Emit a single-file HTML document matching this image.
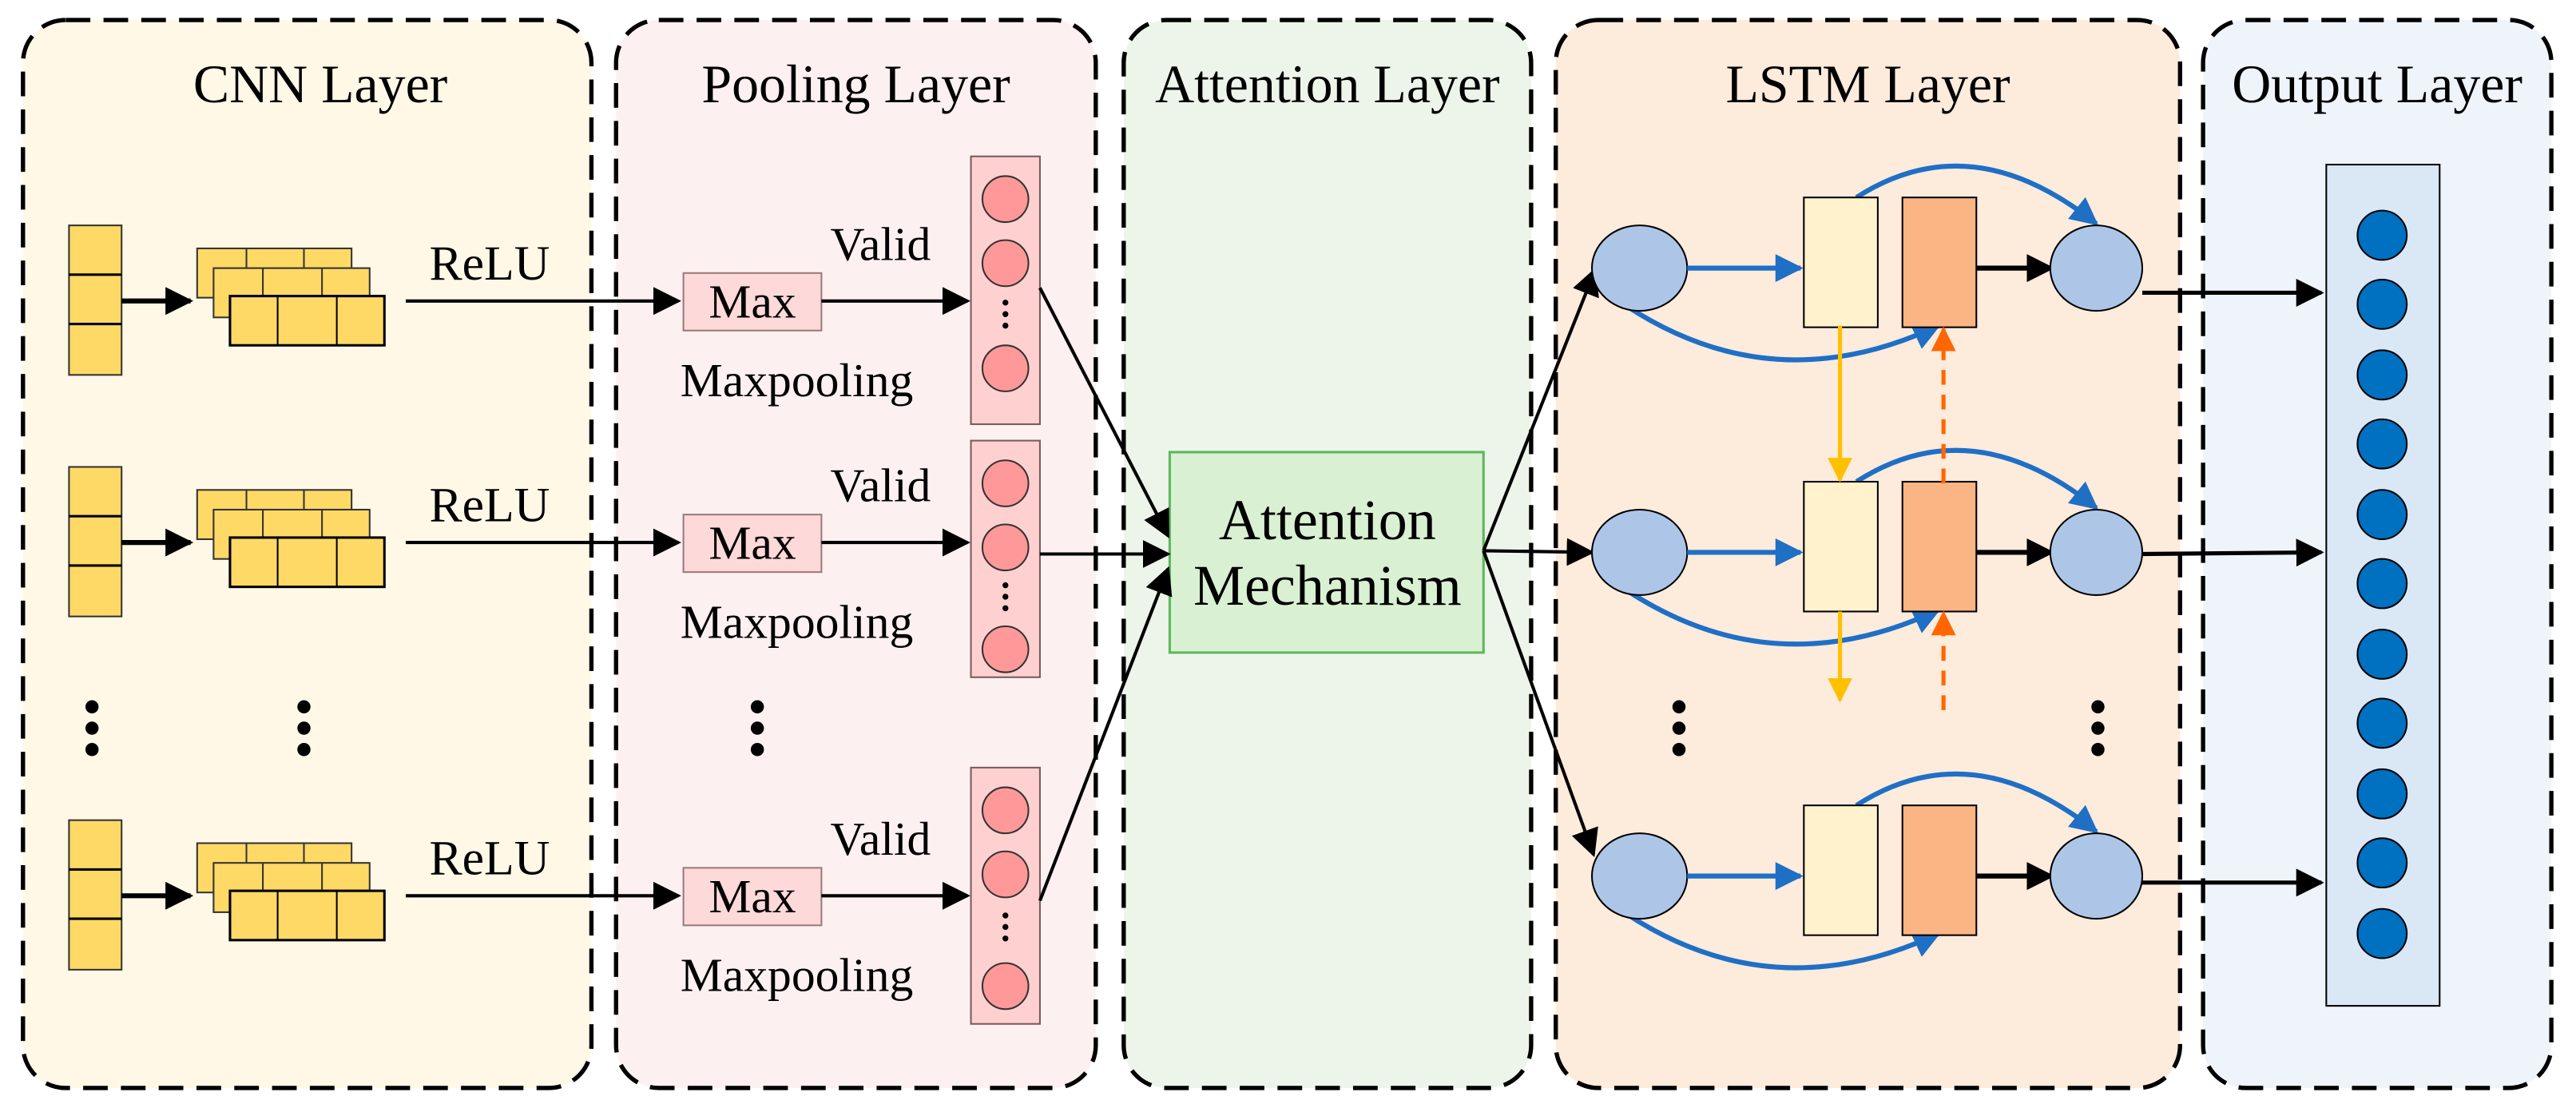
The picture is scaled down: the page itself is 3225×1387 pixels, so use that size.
<!DOCTYPE html>
<html><head><meta charset="utf-8"><style>html,body{margin:0;padding:0;background:#fff}svg{display:block}</style></head><body>
<svg width="3225" height="1387" viewBox="0 0 1568 674" xmlns="http://www.w3.org/2000/svg" font-family="Liberation Serif, serif">
<defs>
<marker id="abk" viewBox="0 0 10 10" refX="9" refY="5" markerWidth="17" markerHeight="17" orient="auto" markerUnits="userSpaceOnUse"><path d="M0,0L10,5L0,10z" fill="#000"/></marker>
<marker id="abl" viewBox="0 0 10 10" refX="9" refY="5" markerWidth="17" markerHeight="17" orient="auto" markerUnits="userSpaceOnUse"><path d="M0,0L10,5L0,10z" fill="#1f6fc5"/></marker>
<marker id="ay" viewBox="0 0 10 10" refX="9" refY="5" markerWidth="15" markerHeight="15" orient="auto" markerUnits="userSpaceOnUse"><path d="M0,0L10,5L0,10z" fill="#ffc000"/></marker>
<marker id="ao" viewBox="0 0 10 10" refX="9" refY="5" markerWidth="15" markerHeight="15" orient="auto" markerUnits="userSpaceOnUse"><path d="M0,0L10,5L0,10z" fill="#ff6600"/></marker>
<g id="dots"><circle cx="0" cy="430" r="4"/><circle cx="0" cy="443" r="4"/><circle cx="0" cy="456" r="4"/></g>
<g id="cnn">
<rect x="42" y="-46" width="32" height="91" fill="#ffd966" stroke="#333" stroke-width="1"/>
<line x1="42" y1="-16" x2="74" y2="-16" stroke="#000" stroke-width="1.5"/><line x1="42" y1="14" x2="74" y2="14" stroke="#000" stroke-width="1.5"/>
<line x1="74" y1="0" x2="116" y2="0" stroke="#000" stroke-width="3" marker-end="url(#abk)"/>
<rect x="120" y="-32" width="94" height="30" fill="#ffd966" stroke="#333"/><line x1="150" y1="-32" x2="150" y2="-2" stroke="#333"/><line x1="185" y1="-32" x2="185" y2="-2" stroke="#333"/>
<rect x="130" y="-20" width="95" height="30" fill="#ffd966" stroke="#333"/><line x1="160" y1="-20" x2="160" y2="10" stroke="#333"/><line x1="196" y1="-20" x2="196" y2="10" stroke="#333"/>
<rect x="140" y="-3" width="94" height="30" fill="#ffd966" stroke="#000" stroke-width="1.5"/><line x1="169" y1="-3" x2="169" y2="27" stroke="#000"/><line x1="205" y1="-3" x2="205" y2="27" stroke="#000"/>
<text x="298" y="-13" font-size="30" text-anchor="middle">ReLU</text>
<line x1="247" y1="0" x2="413" y2="0" stroke="#000" stroke-width="2" marker-end="url(#abk)"/>
<rect x="416" y="-17" width="84" height="35" fill="#fdd9d9" stroke="#9b7a7a"/>
<text x="458" y="10" font-size="29" text-anchor="middle">Max</text>
<line x1="500" y1="0" x2="589" y2="0" stroke="#000" stroke-width="2" marker-end="url(#abk)"/>
<text x="536" y="-25" font-size="29" text-anchor="middle">Valid</text>
<text x="485" y="58" font-size="29" text-anchor="middle">Maxpooling</text>
</g>
<g id="lr">
<path d="M1130,0 Q1200,-45 1276,16" stroke="#1f6fc5" stroke-width="3" fill="none" marker-end="url(#abl)"/>
<path d="M990,66 Q1080,125 1180,78" stroke="#1f6fc5" stroke-width="3" fill="none" marker-end="url(#abl)"/>
<ellipse cx="998" cy="43" rx="29" ry="26" fill="#adc6e8" stroke="#000" stroke-width="1"/>
<line x1="1027" y1="43" x2="1096" y2="43" stroke="#1f6fc5" stroke-width="3" marker-end="url(#abl)"/>
<rect x="1098" y="0" width="45" height="79" fill="#fff2cc" stroke="#000" stroke-width="1"/>
<rect x="1158" y="0" width="45" height="79" fill="#fbb584" stroke="#000" stroke-width="1"/>
<line x1="1203" y1="43" x2="1249" y2="43" stroke="#000" stroke-width="3" marker-end="url(#abk)"/>
<ellipse cx="1276" cy="43" rx="28" ry="26" fill="#adc6e8" stroke="#000" stroke-width="1"/>
</g>
</defs>
<g stroke="#000" stroke-width="2.6" stroke-dasharray="15,8">
<rect x="14" y="12" width="346" height="650" rx="26" fill="#fff8e7"/>
<rect x="375" y="12" width="292" height="650" rx="26" fill="#fdf0f0"/>
<rect x="684" y="12" width="248" height="650" rx="26" fill="#edf5ea"/>
<rect x="947" y="12" width="380" height="650" rx="26" fill="#fdebdc"/>
<rect x="1341" y="12" width="212" height="650" rx="26" fill="#eff4fb"/>
</g>
<g font-size="33" text-anchor="middle">
<text x="195" y="62">CNN Layer</text><text x="521" y="62">Pooling Layer</text><text x="808" y="62">Attention Layer</text><text x="1137" y="62">LSTM Layer</text><text x="1447" y="62">Output Layer</text>
</g>
<use href="#cnn" y="183"/><use href="#cnn" y="330"/><use href="#cnn" y="545"/>
<g stroke="#7a5a5a" stroke-width="1">
<rect x="591" y="95" width="42" height="163" fill="#ffd0d0"/>
<rect x="591" y="268" width="42" height="144" fill="#ffd0d0"/>
<rect x="591" y="467" width="42" height="156" fill="#ffd0d0"/>
<g fill="#ff9999" stroke="#333">
<circle cx="612" cy="121" r="14"/><circle cx="612" cy="160" r="14"/><circle cx="612" cy="224" r="14"/>
<circle cx="612" cy="294" r="14"/><circle cx="612" cy="333" r="14"/><circle cx="612" cy="395" r="14"/>
<circle cx="612" cy="493" r="14"/><circle cx="612" cy="532" r="14"/><circle cx="612" cy="600" r="14"/>
</g></g>
<g fill="#000">
<circle cx="612" cy="184" r="1.8"/><circle cx="612" cy="191" r="1.8"/><circle cx="612" cy="198" r="1.8"/>
<circle cx="612" cy="356" r="1.8"/><circle cx="612" cy="363" r="1.8"/><circle cx="612" cy="370" r="1.8"/>
<circle cx="612" cy="557" r="1.8"/><circle cx="612" cy="564" r="1.8"/><circle cx="612" cy="571" r="1.8"/>
<use href="#dots" x="56"/><use href="#dots" x="185"/><use href="#dots" x="461"/><use href="#dots" x="1022"/><use href="#dots" x="1277"/>
</g>
<rect x="712" y="275" width="191" height="122" fill="#d9f0d3" stroke="#5cb85c" stroke-width="1.5"/>
<text x="808" y="328" font-size="35" text-anchor="middle">Attention</text>
<text x="808" y="368" font-size="35" text-anchor="middle">Mechanism</text>
<g stroke="#000" stroke-width="2" fill="none">
<line x1="633" y1="175" x2="711" y2="326" marker-end="url(#abk)"/>
<line x1="633" y1="337" x2="711" y2="337" marker-end="url(#abk)"/>
<line x1="633" y1="548" x2="711" y2="346" marker-end="url(#abk)"/>
<line x1="903" y1="335" x2="971" y2="164" marker-end="url(#abk)"/>
<line x1="903" y1="335" x2="969" y2="336" marker-end="url(#abk)"/>
<line x1="903" y1="335" x2="970" y2="520" marker-end="url(#abk)"/>
</g>
<use href="#lr" y="120"/><use href="#lr" y="293"/><use href="#lr" y="490"/>
<line x1="1120" y1="198" x2="1120" y2="292" stroke="#ffc000" stroke-width="2.5" marker-end="url(#ay)"/>
<line x1="1120" y1="372" x2="1120" y2="426" stroke="#ffc000" stroke-width="2.5" marker-end="url(#ay)"/>
<line x1="1183" y1="294" x2="1183" y2="200" stroke="#ff6600" stroke-width="2.5" stroke-dasharray="9,6" marker-end="url(#ao)"/>
<line x1="1183" y1="432" x2="1183" y2="373" stroke="#ff6600" stroke-width="2.5" stroke-dasharray="9,6" marker-end="url(#ao)"/>
<g stroke="#000" stroke-width="2.5">
<line x1="1304" y1="178" x2="1413" y2="178" marker-end="url(#abk)"/>
<line x1="1304" y1="337" x2="1413" y2="336" marker-end="url(#abk)"/>
<line x1="1304" y1="537" x2="1413" y2="537" marker-end="url(#abk)"/>
</g>
<rect x="1416" y="100" width="69" height="512" fill="#dae8f5" stroke="#000" stroke-width="1"/>
<g fill="#0070c0" stroke="#000" stroke-width="1">
<ellipse cx="1450" cy="143" rx="15" ry="15"/><ellipse cx="1450" cy="185" rx="15" ry="15"/><ellipse cx="1450" cy="228" rx="15" ry="15"/><ellipse cx="1450" cy="270" rx="15" ry="15"/><ellipse cx="1450" cy="313" rx="15" ry="15"/><ellipse cx="1450" cy="355" rx="15" ry="15"/><ellipse cx="1450" cy="398" rx="15" ry="15"/><ellipse cx="1450" cy="440" rx="15" ry="15"/><ellipse cx="1450" cy="483" rx="15" ry="15"/><ellipse cx="1450" cy="525" rx="15" ry="15"/><ellipse cx="1450" cy="568" rx="15" ry="15"/>
</g>
</svg>
</body></html>
